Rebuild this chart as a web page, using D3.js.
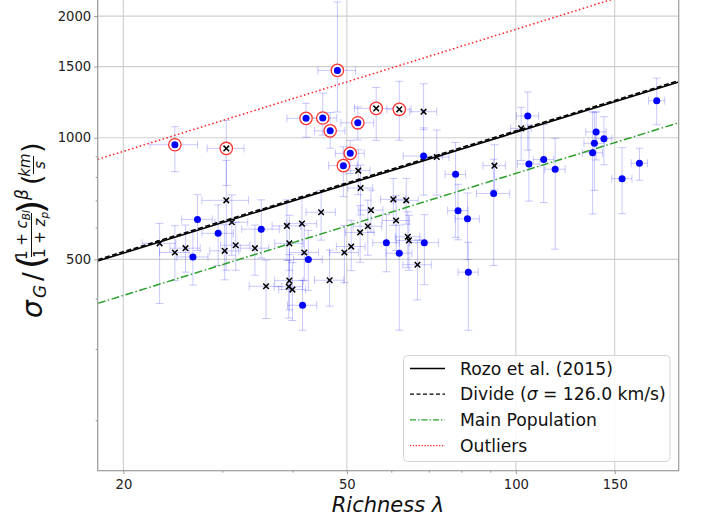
<!DOCTYPE html>
<html><head><meta charset="utf-8">
<script src="https://cdn.jsdelivr.net/npm/d3@7"></script>
<style>
body{margin:0;background:#fff}
svg{display:block}
text{font-family:"DejaVu Sans",sans-serif;white-space:pre}
</style>
</head><body>
<svg id="c" width="702" height="517"></svg>
<script>
// ---------- data ----------
// blue filled-circle clusters
const blueLambda    = [24.7,42.3,45.3,46.7,48.1,49.3,50.7,52.3, 26.6,27.1,29.5,35.2,42.7,41.7,58.8,62.0,68.7,68.5,78.1,78.9,82.0,82.3,91.3,105.0,105.5,112.1,117.5,139.0,138.0,143.5,137.0,154.6,166.0,178.2];
const blueLambdaErr = [2.4,3.2,2.7,2.9,3.7,2.9,3.0,3.5, 1.7,1.7,1.9,2.7,2.5,2.5,3.2,3.3,4.1,5.5,3.3,3.3,4.1,3.4,6.2,4.8,4.9,4.7,4.9,5.8,5.8,4.8,5.7,6.4,5.5,5.9];
const blueSigma     = [961,1117,1119,1040,1468,853,915,1089, 507,628,580,594,500,385,550,518,550,901,812,660,630,465,728,1132,861,883,836,1034,969,994,918,792,865,1235];
const blueSigmaErrLo= [137,114,104,98,310,138,99,101, 75,102,97,90,81,51,84,184,117,180,245,101,131,131,245,200,164,192,306,153,228,137,270,143,80,158];
const blueSigmaErrHi= [104,100,171,115,700,97,70,104, 84,95,102,108,90,59,95,90,95,157,162,107,100,86,157,166,214,195,161,125,187,133,241,153,77,170];
const blueOutlier   = [1,1,1,1,1,1,1,1, 0,0,0,0,0,0,0,0,0,0,0,0,0,0,0,0,0,0,0,0,0,0,0,0,0,0];

// black cross clusters
const crossLambda    = [30.5,56.4,62.0, 23.2,24.7,25.8,30.5,30.3,31.2,31.7,34.3,39.1,41.6, 39.5,42.0,35.9,39.5,39.4,40.0,45.0,46.6,49.5,50.9, 52.8,54.5,55.2,52.4,52.9,60.5,63.8,61.2,64.2,64.5, 66.8,68.5,72.3,91.6,102.2];
const crossLambdaErr = [2.3,4.8,3.1, 1.6,1.5,1.6,2.9,1.8,2.1,1.9,2.0,2.3,2.6, 2.3,2.5,2.4,2.3,2.3,2.2,2.7,2.8,2.9,3.0, 3.1,3.2,2.8,2.6,2.7,3.1,3.2,3.4,3.2,3.3, 3.9,3.8,3.7,4.2,4.3];
const crossSigma     = [941,1182,1176, 548,520,533,700,525,618,542,533,605,613, 548,520,429,443,428,421,654,444,520,538, 583,604,662,829,751,704,700,624,569,557, 485,1160,896,853,1055];
const crossSigmaErrLo= [179,197,190, 159,77,68,230,80,106,72,76,107,99, 78,77,72,68,70,68,96,61,82,69, 91,92,78,106,107,97,89,98,92,87, 88,113,175,110,176];
const crossSigmaErrHi= [163,150,204, 66,86,75,179,84,104,76,75,97,102, 95,87,69,71,69,70,87,83,87,87, 97,97,80,105,105,89,93,95,87,86, 74,200,149,108,134];
const crossOutlier   = [1,1,1, 0,0,0,0,0,0,0,0,0,0, 0,0,0,0,0,0,0,0,0,0, 0,0,0,0,0,0,0,0,0,0, 0,0,0,0,0];

// fitted power laws sigma = norm * (lambda/50)^slope
const lineNames  = ["Rozo et al. (2015)","Divide","Main Population","Outliers"];
const lineNorm   = [767, 773, 605, 1375];
const lineSlope  = [0.428, 0.428, 0.432, 0.432];

const xTickValues  = [20,50,100,150];
const xMinorValues = [30,40,60,70,80,90];
const yTickValues  = [500,1000,1500,2000];
const yMinorValues = [200,300,400,600,700,800,900];

// ---------- chart ----------
const svg = d3.select("#c");
const m = {left:97.7, right:678.7, top:-3, bottom:470.7};
const x = d3.scaleLog().domain([18,195]).range([m.left,m.right]);
const y = d3.scaleLog().domain([150,2230]).range([m.bottom,m.top]);

svg.append("defs").append("clipPath").attr("id","clip")
  .append("rect").attr("x",m.left).attr("y",m.top).attr("width",m.right-m.left).attr("height",m.bottom-m.top);

// grid
const grid = svg.append("g");
xTickValues.forEach(v=>grid.append("line").attr("x1",x(v)).attr("x2",x(v)).attr("y1",m.top).attr("y2",m.bottom)
  .attr("stroke","#cfcfcf").attr("stroke-width",1.1));
yTickValues.forEach(v=>grid.append("line").attr("y1",y(v)).attr("y2",y(v)).attr("x1",m.left).attr("x2",m.right)
  .attr("stroke","#cfcfcf").attr("stroke-width",1.1));

// axes
const fmt = d3.format("d");
const ax = svg.append("g").attr("transform",`translate(0,${m.bottom})`)
  .call(d3.axisBottom(x).tickValues(xTickValues).tickFormat(fmt).tickSize(3.5).tickPadding(5.5));
const axm = svg.append("g").attr("transform",`translate(0,${m.bottom})`)
  .call(d3.axisBottom(x).tickValues(xMinorValues).tickFormat("").tickSize(2));
const ay = svg.append("g").attr("transform",`translate(${m.left},0)`)
  .call(d3.axisLeft(y).tickValues(yTickValues).tickFormat(fmt).tickSize(3.5).tickPadding(3));
const aym = svg.append("g").attr("transform",`translate(${m.left},0)`)
  .call(d3.axisLeft(y).tickValues(yMinorValues).tickFormat("").tickSize(2));
[ax,axm,ay,aym].forEach(g=>{
  g.select(".domain").remove();
  g.selectAll("line").attr("stroke","#999").attr("stroke-width",1);
  g.selectAll("text").attr("font-size",13.2).attr("fill","#222").attr("font-family","DejaVu Sans");
});

const plot = svg.append("g").attr("clip-path","url(#clip)");

// error bars
const eb = plot.append("g").attr("stroke","#0000ff").attr("stroke-opacity",0.22).attr("stroke-width",1).attr("fill","none");
function errbars(L,Le,S,Slo,Shi){
  const cap=4;
  for(let i=0;i<L.length;i++){
    const cx=x(L[i]), cy=y(S[i]);
    const x0=x(L[i]-Le[i]), x1=x(L[i]+Le[i]);
    const y0=y(S[i]-Slo[i]), y1=y(S[i]+Shi[i]);
    eb.append("line").attr("x1",x0).attr("x2",x1).attr("y1",cy).attr("y2",cy);
    eb.append("line").attr("x1",x0).attr("x2",x0).attr("y1",cy-cap).attr("y2",cy+cap);
    eb.append("line").attr("x1",x1).attr("x2",x1).attr("y1",cy-cap).attr("y2",cy+cap);
    eb.append("line").attr("x1",cx).attr("x2",cx).attr("y1",y0).attr("y2",y1);
    eb.append("line").attr("x1",cx-cap).attr("x2",cx+cap).attr("y1",y0).attr("y2",y0);
    eb.append("line").attr("x1",cx-cap).attr("x2",cx+cap).attr("y1",y1).attr("y2",y1);
  }
}
errbars(blueLambda,blueLambdaErr,blueSigma,blueSigmaErrLo,blueSigmaErrHi);
errbars(crossLambda,crossLambdaErr,crossSigma,crossSigmaErrLo,crossSigmaErrHi);

// fitted lines
const lineStyles = [
  {stroke:"#000", dash:null, w:1.6},
  {stroke:"#000", dash:"5,2.5", w:1.6},
  {stroke:"#2ca02c", dash:"8,2.5,1.5,2.5", w:1.5},
  {stroke:"#ff2020", dash:"1.5,2.5", w:1.5}
];
const lineGen = d3.line().x(d=>x(d[0])).y(d=>y(d[1]));
const xEnds = x.domain();
lineNames.forEach((n,i)=>{
  const pts = xEnds.map(l=>[l, lineNorm[i]*Math.pow(l/50,lineSlope[i])]);
  const st = lineStyles[i];
  plot.append("path").attr("d",lineGen(pts)).attr("fill","none")
    .attr("stroke",st.stroke).attr("stroke-width",st.w)
    .attr("stroke-dasharray",st.dash);
});

// outlier rings
const rings = plot.append("g");
function ringsFor(L,S,O){
  for(let i=0;i<L.length;i++) if(O[i]){
    rings.append("circle").attr("cx",x(L[i])).attr("cy",y(S[i])).attr("r",6.2)
      .attr("fill","#fff").attr("stroke","#ff3030").attr("stroke-width",1.3);
  }
}
ringsFor(blueLambda,blueSigma,blueOutlier);
ringsFor(crossLambda,crossSigma,crossOutlier);

// markers
plot.append("g").selectAll("circle").data(blueLambda).join("circle")
  .attr("cx",(d)=>x(d)).attr("cy",(d,i)=>y(blueSigma[i])).attr("r",3.5).attr("fill","#0000ff");
const cr = plot.append("g").attr("stroke","#000").attr("stroke-width",1.5);
crossLambda.forEach((l,i)=>{
  const cx=x(l), cy=y(crossSigma[i]), s=2.8;
  cr.append("path").attr("d",`M${cx-s},${cy-s}L${cx+s},${cy+s}M${cx-s},${cy+s}L${cx+s},${cy-s}`);
});

// spines
svg.append("rect").attr("x",m.left).attr("y",m.top).attr("width",m.right-m.left).attr("height",m.bottom-m.top)
  .attr("fill","none").attr("stroke","#999").attr("stroke-width",1.2);

// x label
svg.append("text").attr("x",388).attr("y",511.5).attr("text-anchor","middle")
  .attr("font-size",21).attr("font-style","italic").attr("fill","#111").text("Richness λ");

// y label (math)
const yl = svg.append("g").attr("transform","translate(42,230) rotate(-90)").attr("fill","#111");
function t(txt,xx,yy,size,italic,anchor){
  return yl.append("text").attr("x",xx).attr("y",yy).attr("font-size",size)
    .attr("font-style",italic?"italic":"normal").attr("text-anchor",anchor||"start").text(txt);
}
t("σ",-88,0,28,true);
t("G",-68,4,17,true);
t("/",-51,0,26,false);
t("(",-39,1,36,false);
const num = yl.append("text").attr("x",-5).attr("y",-15.5).attr("font-size",15).attr("text-anchor","middle");
num.append("tspan").text("1 + ");
num.append("tspan").attr("font-style","italic").text("c");
num.append("tspan").attr("font-style","italic").attr("font-size",10.5).attr("dy",3).text("BI");
yl.append("line").attr("x1",-27).attr("x2",17).attr("y1",-10.5).attr("y2",-10.5).attr("stroke","#111").attr("stroke-width",1);
const den = yl.append("text").attr("x",-5).attr("y",2.5).attr("font-size",15).attr("text-anchor","middle");
den.append("tspan").text("1 + ");
den.append("tspan").attr("font-style","italic").text("z");
den.append("tspan").attr("font-style","italic").attr("font-size",10.5).attr("dy",3).text("p");
t(")",16,1,36,false);
t("β",30,-14,17,true);
t("(",45,-1,27,false);
t("km",65,-12,15,true,"middle");
yl.append("line").attr("x1",56).attr("x2",74).attr("y1",-8.5).attr("y2",-8.5).attr("stroke","#111").attr("stroke-width",1);
t("s",65,2.5,15,true,"middle");
t(")",77,-1,27,false);

// legend
const lg = svg.append("g");
lg.append("rect").attr("x",403.5).attr("y",355.5).attr("width",266.5).attr("height",106).attr("rx",4)
  .attr("fill","#fff").attr("fill-opacity",0.85).attr("stroke","#d3d3d3").attr("stroke-width",1);
const legendLabels = ["Rozo et al. (2015)","Divide","Main Population","Outliers"];
const legendStyles = [
  {stroke:"#000", dash:null, w:1.5},
  {stroke:"#000", dash:"4,2.5", w:1.3},
  {stroke:"#2ca02c", dash:"6,2,1.5,2", w:1.3},
  {stroke:"#ff2020", dash:"1.3,1.6", w:1.3}
];
legendLabels.forEach((lab,i)=>{
  const cy = 368.5 + i*25.7;
  const st = legendStyles[i];
  lg.append("line").attr("x1",410).attr("x2",445).attr("y1",cy).attr("y2",cy)
    .attr("stroke",st.stroke).attr("stroke-width",st.w).attr("stroke-dasharray",st.dash);
  const tx = lg.append("text").attr("x",460).attr("y",cy+6.2).attr("font-size",17.2).attr("fill","#111");
  if(i===1){
    tx.append("tspan").text("Divide (");
    tx.append("tspan").attr("font-style","italic").text("σ");
    tx.append("tspan").text(" = 126.0 km/s)");
  } else tx.text(lab);
});
</script>
</body></html>
